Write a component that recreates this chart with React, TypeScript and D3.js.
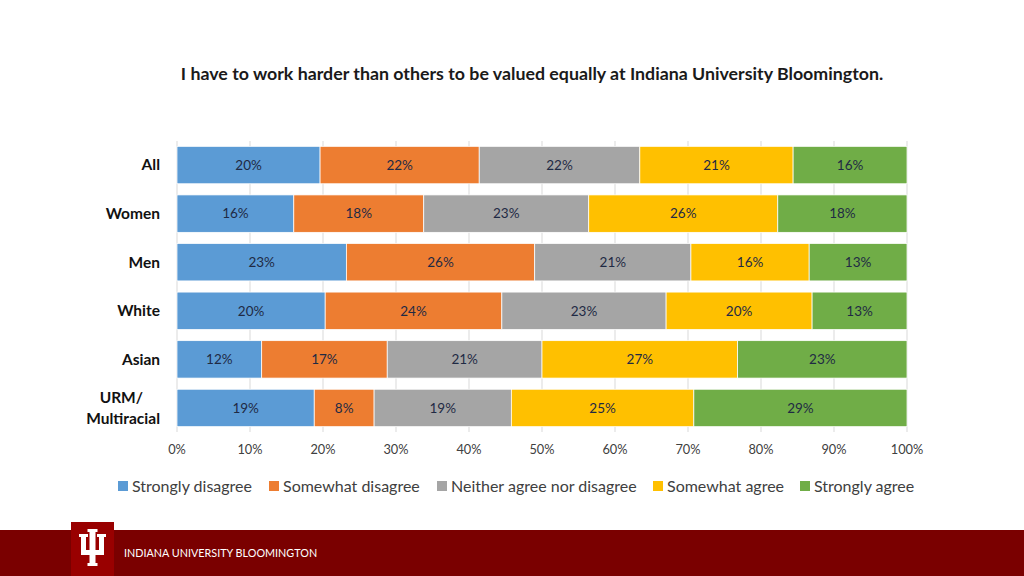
import React, { useEffect, useRef } from 'react';
import * as d3 from 'd3';

const groups = ['All', 'Women', 'Men', 'White', 'Asian', 'URM/ Multiracial'];
const responses = [
  'Strongly disagree',
  'Somewhat disagree',
  'Neither agree nor disagree',
  'Somewhat agree',
  'Strongly agree',
];
// percent of respondents per group, in the order of responses
const stronglyDisagree = [19.6, 16.0, 23.2, 20.3, 11.6, 18.8];
const somewhatDisagree = [21.8, 17.8, 25.8, 24.2, 17.2, 8.2];
const neither = [22.0, 22.6, 21.4, 22.5, 21.2, 18.8];
const somewhatAgree = [21.0, 25.9, 16.2, 20.0, 26.8, 25.0];
const stronglyAgree = [15.6, 17.7, 13.4, 13.0, 23.2, 29.2];
const xTicks = [0, 10, 20, 30, 40, 50, 60, 70, 80, 90, 100];
const colors = ['#5B9BD5', '#ED7D31', '#A5A5A5', '#FFC000', '#70AD47'];

const W = 1024;
const H = 576;
const FONT = 'Lato, "Open Sans", sans-serif';

export default function App() {
  const svgRef = useRef<SVGSVGElement>(null);

  useEffect(() => {
    if (!svgRef.current) return;
    const svg = d3.select(svgRef.current);
    svg.selectAll('*').remove();

    const series = [stronglyDisagree, somewhatDisagree, neither, somewhatAgree, stronglyAgree];
    const rows = groups.map((g, i) => {
      const row: any = { group: g };
      responses.forEach((r, j) => (row[r] = series[j][i]));
      return row;
    });
    const stacked = d3.stack<any>().keys(responses)(rows);

    const x = d3.scaleLinear().domain([0, 100]).range([177, 907]);
    const y = d3.scaleBand().domain(groups).range([141, 432]).paddingInner(0.23).paddingOuter(0.11);

    svg.append('rect').attr('width', W).attr('height', H).attr('fill', '#fff');

    // title
    svg
      .append('text')
      .attr('x', 532)
      .attr('y', 80)
      .attr('text-anchor', 'middle')
      .attr('font-family', FONT)
      .attr('font-weight', 700)
      .attr('font-size', 17.8)
      .attr('fill', '#1a1a1a')
      .text('I have to work harder than others to be valued equally at Indiana University Bloomington.');

    // gridlines
    svg
      .append('g')
      .selectAll('line')
      .data(xTicks)
      .enter()
      .append('line')
      .attr('x1', d => x(d))
      .attr('x2', d => x(d))
      .attr('y1', 141)
      .attr('y2', 432)
      .attr('stroke', '#D9D9D9')
      .attr('stroke-width', 1);

    // bars
    const layer = svg
      .append('g')
      .selectAll('g')
      .data(stacked)
      .enter()
      .append('g')
      .attr('fill', (d, i) => colors[i]);

    layer
      .selectAll('rect')
      .data(d => d)
      .enter()
      .append('rect')
      .attr('x', d => x(d[0]))
      .attr('width', d => x(d[1]) - x(d[0]))
      .attr('y', d => y(d.data.group)!)
      .attr('height', y.bandwidth())
      .attr('stroke', '#fff')
      .attr('stroke-width', 0.75);

    layer
      .selectAll('text')
      .data(d => d)
      .enter()
      .append('text')
      .attr('x', d => (x(d[0]) + x(d[1])) / 2)
      .attr('y', d => y(d.data.group)! + y.bandwidth() / 2)
      .attr('dy', '0.35em')
      .attr('text-anchor', 'middle')
      .attr('font-family', FONT)
      .attr('font-size', 13.5)
      .attr('fill', '#1F2A44')
      .text(d => `${Math.round(d[1] - d[0])}%`);

    // category labels
    const cat = svg.append('g');
    groups.forEach(g => {
      const cy = y(g)! + y.bandwidth() / 2;
      const lines = g.split(' ');
      const t = cat
        .append('text')
        .attr('text-anchor', 'end')
        .attr('font-family', FONT)
        .attr('font-weight', 700)
        .attr('font-size', 15.5)
        .attr('fill', '#111');
      lines.forEach((ln, k) => {
        t.append('tspan')
          .attr('x', lines.length > 1 && k === 0 ? 143 : 160)
          .attr('y', cy + (k - (lines.length - 1) / 2) * 21)
          .attr('dy', '0.35em')
          .text(ln);
      });
    });

    // x axis labels
    svg
      .append('g')
      .selectAll('text')
      .data(xTicks)
      .enter()
      .append('text')
      .attr('x', d => x(d))
      .attr('y', 450)
      .attr('dy', '0.35em')
      .attr('text-anchor', 'middle')
      .attr('font-family', FONT)
      .attr('font-size', 12.8)
      .attr('fill', '#404040')
      .text(d => `${d}%`);

    // legend
    const legendX = [118, 269, 437, 653, 800];
    const leg = svg.append('g');
    responses.forEach((r, i) => {
      leg
        .append('rect')
        .attr('x', legendX[i])
        .attr('y', 481)
        .attr('width', 10)
        .attr('height', 10)
        .attr('fill', colors[i]);
      leg
        .append('text')
        .attr('x', legendX[i] + 14)
        .attr('y', 486)
        .attr('dy', '0.35em')
        .attr('font-family', FONT)
        .attr('font-size', 16)
        .attr('fill', '#404040')
        .text(r);
    });

    // footer band
    svg.append('rect').attr('x', 0).attr('y', 530).attr('width', W).attr('height', 46).attr('fill', '#7A0000');
    svg.append('rect').attr('x', 71).attr('y', 522).attr('width', 43).attr('height', 54).attr('fill', '#990000');
    // trident mark
    const logo = svg.append('g').attr('fill', '#fff');
    logo.append('rect').attr('x', 89.5).attr('y', 530).attr('width', 6).attr('height', 36);
    logo.append('rect').attr('x', 81).attr('y', 536).attr('width', 5).attr('height', 17);
    logo.append('rect').attr('x', 99).attr('y', 536).attr('width', 5).attr('height', 17);
    logo.append('rect').attr('x', 81).attr('y', 550).attr('width', 23).attr('height', 5);
    logo.append('rect').attr('x', 79).attr('y', 534).attr('width', 9).attr('height', 3);
    logo.append('rect').attr('x', 97).attr('y', 534).attr('width', 9).attr('height', 3);
    logo.append('rect').attr('x', 87.5).attr('y', 529).attr('width', 10).attr('height', 3);
    logo.append('rect').attr('x', 87.5).attr('y', 563).attr('width', 10).attr('height', 3);

    svg
      .append('text')
      .attr('x', 124)
      .attr('y', 553)
      .attr('dy', '0.35em')
      .attr('font-family', FONT)
      .attr('font-size', 10.8)
      .attr('fill', '#fff')
      .text('INDIANA UNIVERSITY BLOOMINGTON');
  }, []);

  return (
    <svg
      ref={svgRef}
      width={W}
      height={H}
      style={{ position: 'absolute', left: 0, top: 0, display: 'block' }}
    />
  );
}
